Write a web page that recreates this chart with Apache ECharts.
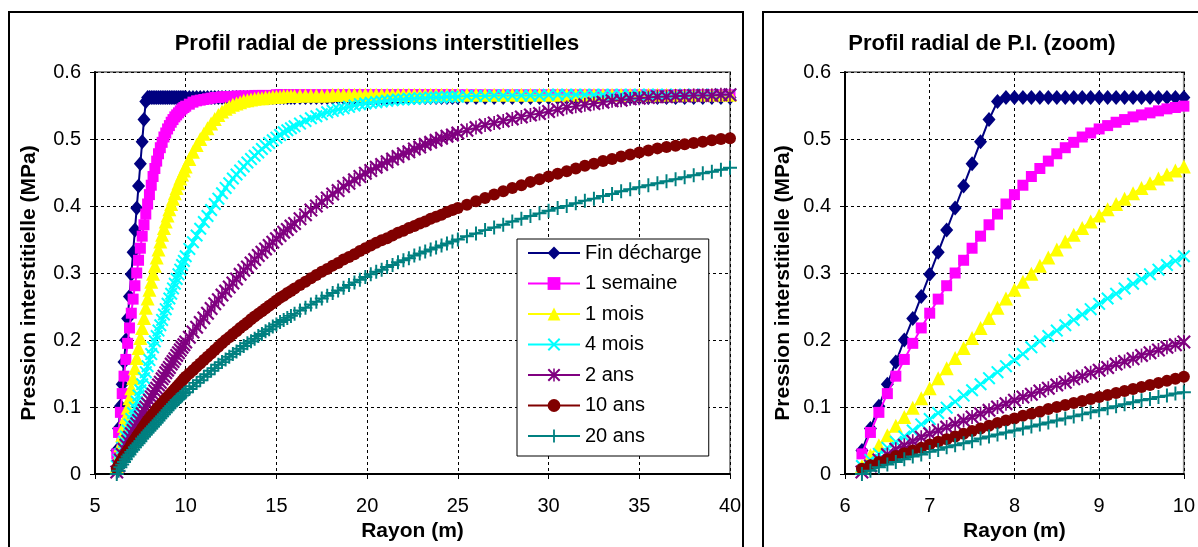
<!DOCTYPE html>
<html>
<head>
<meta charset="utf-8">
<script src="https://cdn.jsdelivr.net/npm/echarts@6/dist/echarts.min.js"></script>
<style>
html,body{margin:0;padding:0;background:#fff;}
#chart{width:1198px;height:547px;}
</style>
</head>
<body>
<div id="chart"></div>
<script>
// Radius (m)
const rayon = [
  6.2,6.3,6.4,6.5,6.6,6.7,6.8,6.9,7.0,7.1,7.2,7.3,7.4,7.5,7.6,7.7,7.8,7.9,8.0,8.1,8.2,8.3,8.4,8.5,8.6,8.7,8.8,8.9,9.0,9.1,9.2,9.3,9.4,9.5,9.6,9.7,9.8,9.9,10.0,
  10.2,10.4,10.6,10.8,11.0,11.2,11.4,11.6,11.8,12.0,12.2,12.4,12.6,12.8,13.0,13.2,13.4,13.6,13.8,14.0,14.2,14.4,14.6,14.8,15.0,15.2,15.4,15.6,15.8,16.0,
  16.3,16.6,16.9,17.2,17.5,17.8,18.1,18.4,18.7,19.0,19.3,19.6,19.9,20.2,20.5,20.8,21.1,21.4,21.7,22.0,22.3,22.6,22.9,23.2,23.5,23.8,24.1,24.4,24.7,25.0,
  25.5,26.0,26.5,27.0,27.5,28.0,28.5,29.0,29.5,30.0,30.5,31.0,31.5,32.0,32.5,33.0,33.5,34.0,34.5,35.0,35.5,36.0,36.5,37.0,37.5,38.0,38.5,39.0,39.5,40.0
];
const finDecharge = [
  0.035,0.068,0.101,0.134,0.167,0.200,0.232,0.265,0.298,0.331,0.364,0.397,0.430,0.463,0.496,0.529,0.556,0.562,0.562,0.562,0.562,0.562,0.562,0.562,0.562,0.562,0.562,0.562,0.562,0.562,0.562,0.562,0.562,0.562,0.562,0.562,0.562,0.562,0.562,
  0.562,0.562,0.562,0.562,0.562,0.562,0.562,0.562,0.562,0.562,0.562,0.562,0.562,0.562,0.562,0.562,0.562,0.562,0.562,0.562,0.562,0.562,0.562,0.562,0.562,0.562,0.562,0.562,0.562,0.562,
  0.562,0.562,0.562,0.562,0.562,0.562,0.562,0.562,0.562,0.562,0.562,0.562,0.562,0.562,0.562,0.562,0.562,0.562,0.562,0.562,0.562,0.562,0.562,0.562,0.562,0.562,0.562,0.562,0.562,0.562,
  0.562,0.562,0.562,0.562,0.562,0.562,0.562,0.562,0.562,0.562,0.562,0.562,0.562,0.562,0.562,0.562,0.562,0.562,0.562,0.562,0.562,0.562,0.562,0.562,0.562,0.562,0.562,0.562,0.562,0.562
];
const uneSemaine = [
  0.030,0.062,0.092,0.120,0.146,0.171,0.195,0.218,0.240,0.261,0.281,0.300,0.319,0.337,0.355,0.372,0.388,0.403,0.417,0.431,0.444,0.456,0.467,0.478,0.487,0.495,0.503,0.509,0.515,0.520,0.525,0.529,0.533,0.536,0.539,0.542,0.545,0.547,0.549,
  0.552,0.555,0.557,0.558,0.559,0.560,0.561,0.562,0.562,0.563,0.563,0.563,0.563,0.564,0.564,0.564,0.564,0.564,0.565,0.565,0.565,0.565,0.565,0.565,0.566,0.566,0.566,0.566,0.566,0.566,
  0.566,0.566,0.566,0.566,0.566,0.566,0.566,0.566,0.566,0.566,0.566,0.566,0.566,0.566,0.566,0.566,0.566,0.566,0.566,0.566,0.566,0.566,0.566,0.566,0.566,0.566,0.566,0.566,0.566,0.566,
  0.566,0.566,0.566,0.566,0.566,0.566,0.566,0.566,0.566,0.566,0.566,0.566,0.566,0.566,0.566,0.566,0.566,0.566,0.566,0.566,0.566,0.566,0.566,0.566,0.566,0.566,0.566,0.566,0.566,0.566
];
const unMois = [
  0.012,0.028,0.043,0.058,0.072,0.085,0.099,0.113,0.128,0.143,0.158,0.173,0.188,0.203,0.218,0.233,0.248,0.262,0.275,0.287,0.299,0.311,0.323,0.335,0.347,0.357,0.367,0.377,0.386,0.395,0.403,0.411,0.419,0.427,0.434,0.441,0.447,0.453,0.459,
  0.470,0.481,0.491,0.500,0.508,0.516,0.523,0.530,0.536,0.541,0.545,0.548,0.551,0.553,0.555,0.557,0.558,0.559,0.560,0.561,0.561,0.562,0.562,0.563,0.563,0.563,0.564,0.564,0.564,0.564,
  0.565,0.565,0.565,0.565,0.565,0.565,0.566,0.566,0.566,0.566,0.566,0.566,0.566,0.566,0.566,0.566,0.566,0.566,0.566,0.566,0.566,0.566,0.566,0.566,0.566,0.566,0.566,0.566,0.566,0.566,
  0.566,0.566,0.566,0.566,0.566,0.566,0.566,0.566,0.566,0.566,0.566,0.566,0.566,0.566,0.566,0.566,0.566,0.566,0.566,0.566,0.566,0.566,0.566,0.566,0.566,0.566,0.566,0.566,0.566,0.566
];
const quatreMois = [
  0.012,0.021,0.030,0.039,0.048,0.056,0.065,0.074,0.082,0.091,0.099,0.108,0.117,0.125,0.134,0.143,0.152,0.161,0.170,0.179,0.189,0.198,0.206,0.214,0.222,0.230,0.238,0.246,0.254,0.262,0.269,0.277,0.284,0.291,0.298,0.305,0.312,0.318,0.325,
  0.336,0.346,0.356,0.366,0.376,0.385,0.394,0.403,0.411,0.419,0.427,0.434,0.441,0.447,0.453,0.459,0.465,0.470,0.475,0.480,0.485,0.490,0.494,0.498,0.502,0.506,0.510,0.513,0.516,0.519,
  0.523,0.527,0.531,0.534,0.537,0.540,0.542,0.544,0.546,0.548,0.550,0.552,0.553,0.554,0.555,0.556,0.557,0.558,0.559,0.559,0.560,0.560,0.561,0.561,0.562,0.562,0.562,0.563,0.563,0.563,
  0.564,0.564,0.564,0.565,0.565,0.565,0.565,0.565,0.565,0.566,0.566,0.566,0.566,0.566,0.566,0.566,0.566,0.566,0.566,0.566,0.566,0.566,0.566,0.566,0.566,0.566,0.566,0.566,0.566,0.566
];
const deuxAns = [
  0.003,0.012,0.021,0.029,0.037,0.043,0.049,0.055,0.060,0.065,0.070,0.075,0.080,0.085,0.090,0.095,0.100,0.105,0.110,0.115,0.119,0.124,0.128,0.133,0.137,0.142,0.146,0.151,0.155,0.159,0.164,0.168,0.172,0.177,0.181,0.185,0.189,0.193,0.197,
  0.204,0.212,0.219,0.226,0.233,0.240,0.247,0.254,0.260,0.267,0.273,0.279,0.285,0.291,0.298,0.304,0.309,0.315,0.320,0.326,0.331,0.336,0.341,0.346,0.351,0.356,0.361,0.365,0.370,0.374,
  0.381,0.387,0.394,0.400,0.406,0.412,0.418,0.423,0.429,0.434,0.439,0.444,0.449,0.453,0.458,0.462,0.466,0.470,0.474,0.478,0.481,0.485,0.488,0.492,0.495,0.498,0.501,0.504,0.506,0.509,
  0.513,0.517,0.521,0.524,0.527,0.530,0.533,0.536,0.538,0.541,0.544,0.547,0.549,0.551,0.553,0.555,0.557,0.558,0.560,0.561,0.562,0.563,0.563,0.564,0.564,0.565,0.565,0.565,0.566,0.566
];
const dixAns = [
  0.008,0.013,0.018,0.022,0.027,0.031,0.035,0.039,0.044,0.048,0.052,0.056,0.060,0.064,0.068,0.072,0.076,0.080,0.083,0.087,0.090,0.093,0.097,0.100,0.103,0.106,0.109,0.112,0.115,0.118,0.121,0.124,0.127,0.130,0.133,0.136,0.139,0.142,0.145,
  0.150,0.155,0.160,0.165,0.170,0.175,0.180,0.185,0.190,0.195,0.200,0.204,0.209,0.213,0.218,0.222,0.226,0.231,0.235,0.239,0.243,0.247,0.251,0.255,0.259,0.263,0.266,0.270,0.273,0.277,
  0.282,0.287,0.292,0.297,0.302,0.306,0.311,0.315,0.320,0.324,0.328,0.333,0.337,0.341,0.345,0.349,0.352,0.356,0.360,0.363,0.367,0.370,0.374,0.377,0.381,0.384,0.387,0.391,0.394,0.397,
  0.402,0.407,0.412,0.417,0.422,0.427,0.431,0.436,0.440,0.444,0.448,0.452,0.456,0.460,0.463,0.467,0.470,0.474,0.477,0.480,0.483,0.486,0.488,0.490,0.492,0.494,0.496,0.498,0.500,0.501
];
const vingtAns = [
  0.000,0.005,0.010,0.014,0.018,0.022,0.026,0.029,0.033,0.036,0.040,0.043,0.046,0.049,0.053,0.056,0.059,0.062,0.065,0.068,0.071,0.074,0.077,0.080,0.083,0.086,0.089,0.092,0.095,0.098,0.101,0.104,0.107,0.110,0.112,0.115,0.117,0.120,0.122,
  0.127,0.131,0.136,0.140,0.145,0.149,0.154,0.158,0.163,0.167,0.171,0.175,0.179,0.183,0.187,0.191,0.195,0.198,0.202,0.206,0.209,0.213,0.216,0.220,0.223,0.227,0.230,0.233,0.236,0.239,
  0.244,0.248,0.253,0.257,0.262,0.266,0.270,0.274,0.278,0.282,0.286,0.290,0.294,0.298,0.302,0.305,0.309,0.312,0.316,0.319,0.322,0.326,0.329,0.332,0.335,0.338,0.341,0.344,0.347,0.350,
  0.355,0.359,0.364,0.368,0.372,0.377,0.381,0.385,0.389,0.393,0.397,0.400,0.404,0.408,0.411,0.415,0.418,0.422,0.425,0.428,0.431,0.434,0.437,0.440,0.443,0.446,0.449,0.451,0.454,0.457
];
const seriesNames = ['Fin décharge','1 semaine','1 mois','4 mois','2 ans','10 ans','20 ans'];
const seriesValues = [finDecharge, uneSemaine, unMois, quatreMois, deuxAns, dixAns, vingtAns];
const seriesColors = ['#000080','#FF00FF','#FFFF00','#00FFFF','#800080','#800000','#008080'];

const X_PATH = 'M0,1.1L1.1,0L5,3.9L8.9,0L10,1.1L6.1,5L10,8.9L8.9,10L5,6.1L1.1,10L0,8.9L3.9,5Z';
const symbols = [
  'diamond', 'rect', 'triangle',
  'path://' + X_PATH,
  'path://' + X_PATH + 'M4.4,0L5.6,0L5.6,10L4.4,10Z',
  'circle',
  'path://M4.3,0L5.7,0L5.7,4.3L10,4.3L10,5.7L5.7,5.7L5.7,10L4.3,10L4.3,5.7L0,5.7L0,4.3L4.3,4.3Z'
];
const symbolSizes = [[13,15], 11, 14, 13, 14, 12, 14];

const FONT = '"Liberation Sans", Arial, sans-serif';

function makeSeries(gridIdx) {
  return seriesNames.map((name, i) => ({
    name: name,
    type: 'line',
    xAxisIndex: gridIdx,
    yAxisIndex: gridIdx,
    data: rayon.map((r, k) => [r, seriesValues[i][k]]),
    symbol: symbols[i],
    symbolSize: symbolSizes[i],
    showSymbol: true,
    clip: true,
    lineStyle: { color: seriesColors[i], width: 2 },
    itemStyle: { color: seriesColors[i], borderWidth: 0 },
    emphasis: { disabled: true },
    z: 2 + i
  }));
}

function yAxis(gridIdx, nameGap) {
  return {
    gridIndex: gridIdx, type: 'value', min: 0, max: 0.6, interval: 0.1,
    name: 'Pression interstitielle (MPa)', nameLocation: 'middle', nameGap: nameGap,
    nameTextStyle: { fontFamily: FONT, fontWeight: 'bold', fontSize: 21, color: '#000', padding: [0, 20, 0, 0] },
    axisLine: { show: true, lineStyle: { color: '#000', width: 2 } },
    axisTick: { show: true, inside: false, length: 5, lineStyle: { color: '#000', width: 1 } },
    axisLabel: { fontFamily: FONT, fontSize: 20, color: '#000', margin: 14 },
    splitLine: { show: true, lineStyle: { color: '#000', type: [3,3], width: 1 } }
  };
}
function xAxis(gridIdx, min, max, interval) {
  return {
    gridIndex: gridIdx, type: 'value', min: min, max: max, interval: interval,
    name: 'Rayon (m)', nameLocation: 'middle', nameGap: 47,
    nameTextStyle: { fontFamily: FONT, fontWeight: 'bold', fontSize: 21, color: '#000' },
    axisLine: { show: true, onZero: false, lineStyle: { color: '#000', width: 2 } },
    axisTick: { show: true, inside: false, length: 5, lineStyle: { color: '#000', width: 1 } },
    axisLabel: { fontFamily: FONT, fontSize: 20, color: '#000', margin: 22 },
    splitLine: { show: true, lineStyle: { color: '#000', type: [3,3], width: 1 } }
  };
}

const chart = echarts.init(document.getElementById('chart'), null, { renderer: 'canvas' });
chart.setOption({
  animation: false,
  backgroundColor: '#fff',
  title: [
    { text: 'Profil radial de pressions interstitielles', left: 377, top: 33, textAlign: 'center', padding: 0,
      textStyle: { fontFamily: FONT, fontWeight: 'bold', fontSize: 22, color: '#000' } },
    { text: 'Profil radial de P.I. (zoom)', left: 982, top: 33, textAlign: 'center', padding: 0,
      textStyle: { fontFamily: FONT, fontWeight: 'bold', fontSize: 22, color: '#000' } }
  ],
  graphic: [
    { type: 'rect', shape: { x: 9, y: 12, width: 734, height: 600 }, style: { fill: 'none', stroke: '#000', lineWidth: 2 }, silent: true, z: 100 },
    { type: 'rect', shape: { x: 763, y: 12, width: 600, height: 600 }, style: { fill: 'none', stroke: '#000', lineWidth: 2 }, silent: true, z: 100 }
  ],
  legend: {
    data: seriesNames,
    orient: 'vertical',
    left: 517, top: 239,
    padding: [4, 7, 10, 10],
    itemWidth: 52, itemHeight: 16, itemGap: 10.5,
    backgroundColor: '#fff',
    borderColor: '#000', borderWidth: 1, borderRadius: 0,
    selectedMode: false,
    textStyle: { fontFamily: FONT, fontSize: 20, color: '#000', lineHeight: 20 },
    z: 20
  },
  grid: [
    { left: 95, top: 72, width: 635, height: 403, show: true, borderColor: '#8c8c8c', borderWidth: 2, backgroundColor: 'transparent' },
    { left: 845, top: 72, width: 343, height: 403, show: true, borderColor: '#8c8c8c', borderWidth: 2, backgroundColor: 'transparent' }
  ],
  xAxis: [ xAxis(0, 5, 40, 5), xAxis(1, 6, 10, 1) ],
  yAxis: [ yAxis(0, 55), yAxis(1, 51) ],
  series: makeSeries(0).concat(makeSeries(1))
});
</script>
</body>
</html>
